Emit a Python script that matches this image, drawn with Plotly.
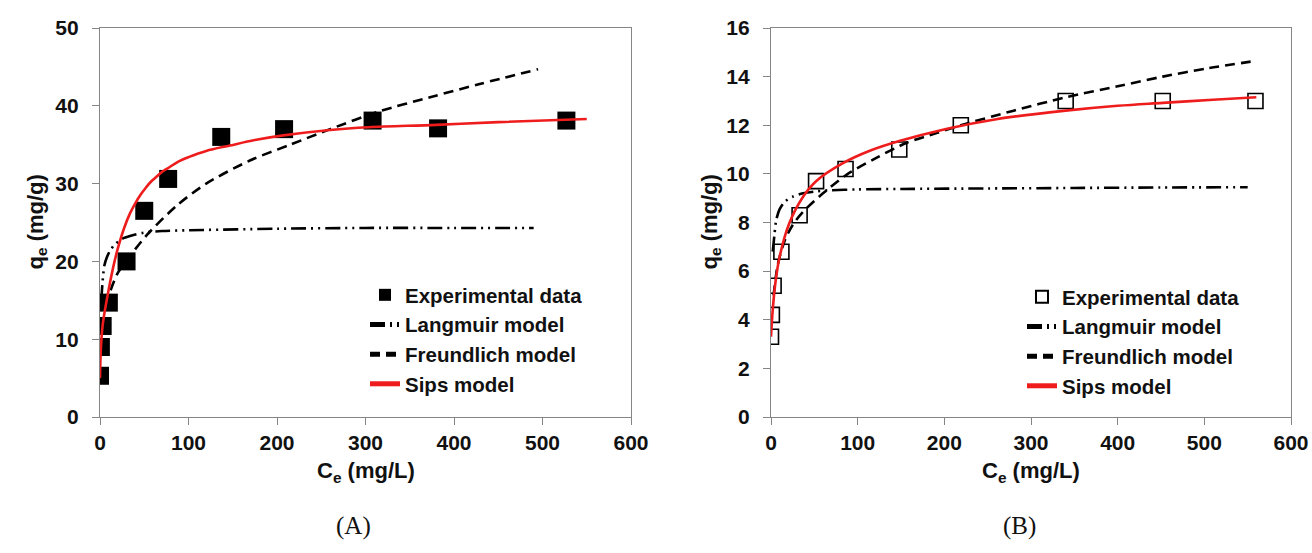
import plotly.graph_objects as go

W, H = 1312, 553

# ---------- Panel A data ----------
a_exp_x = [0, 1, 3, 10, 30, 50, 77, 137, 208, 308, 382, 527]
a_exp_y = [5.3, 9.0, 11.7, 14.7, 20.0, 26.5, 30.6, 36.0, 37.0, 38.1, 37.1, 38.1]

a_lang_x = [1.5, 3, 5, 8, 12, 17, 25, 35, 50, 70, 100, 200, 300, 400, 490]
a_lang_y = [15.0, 17.5, 19.5, 20.6, 21.5, 22.2, 22.9, 23.3, 23.7, 23.9, 24.0, 24.2, 24.3, 24.3, 24.3]

a_freu_x = [12, 20, 34, 53, 87, 120, 170, 215, 260, 316, 373, 429, 495]
a_freu_y = [16.3, 18.5, 20.7, 23.4, 27.2, 30.0, 33.0, 35.0, 37.0, 39.3, 41.1, 42.8, 44.7]

a_sips_x = [0, 1, 3, 6, 10, 15, 20, 27, 34, 40, 46, 52, 58, 64, 70, 77, 88, 100, 120, 147, 175, 207,
            260, 303, 380, 450, 550]
a_sips_y = [5.0, 8.8, 11.8, 14.0, 16.5, 19.3, 21.6, 24.2, 26.2, 27.5, 28.6, 29.5, 30.3, 30.9, 31.5,
            32.0, 32.8, 33.4, 34.2, 34.9, 35.6, 36.2, 36.9, 37.25, 37.55, 37.9, 38.3]

# ---------- Panel B data ----------
b_exp_x = [0, 1, 3, 12, 33, 52, 86, 148, 219, 340, 452, 559]
b_exp_y = [3.3, 4.2, 5.4, 6.8, 8.3, 9.7, 10.2, 11.0, 12.0, 13.0, 13.0, 13.0]

b_lang_x = [2, 4, 6, 10, 16, 25, 37, 52, 65, 100, 150, 250, 350, 450, 550]
b_lang_y = [6.8, 7.5, 8.1, 8.55, 8.86, 9.06, 9.2, 9.28, 9.32, 9.36, 9.38, 9.4, 9.42, 9.44, 9.45]

b_freu_x = [3, 8, 16, 25, 37, 60, 87, 121, 156, 191, 219, 280, 340, 400, 452, 505, 560]
b_freu_y = [5.0, 6.3, 7.27, 7.9, 8.44, 9.2, 9.96, 10.65, 11.27, 11.68, 12.0, 12.6, 13.15, 13.6,
            14.0, 14.35, 14.65]

b_sips_x = [0, 2, 5, 10, 21, 37, 52, 83, 114, 148, 202, 260, 340, 400, 452, 510, 560]
b_sips_y = [3.3, 4.4, 5.5, 6.6, 7.96, 9.06, 9.7, 10.44, 10.95, 11.35, 11.85, 12.25, 12.6, 12.8,
            12.92, 13.05, 13.15]

x_ticks = [0, 100, 200, 300, 400, 500, 600]
a_y_ticks = [0, 10, 20, 30, 40, 50]
b_y_ticks = [0, 2, 4, 6, 8, 10, 12, 14, 16]

names = ["Experimental data", "Langmuir model", "Freundlich model", "Sips model"]
x_title = "C<sub>e</sub> (mg/L)"
y_title = "q<sub>e</sub> (mg/g)"
panel_labels = ["(A)", "(B)"]

FONT = "Liberation Sans"
LANG_DASH = "15px,5px,2px,5px,2px,5px"
FREU_DASH = "10px,6px"
INK = "#111111"
AXIS_GREY = "#858585"

fig = go.Figure()


def add_panel(xa, ya, leg, ex, ey, lx, ly, fx, fy, sx, sy, filled):
    fig.add_trace(go.Scatter(
        x=ex, y=ey, mode="markers", name=names[0], xaxis=xa, yaxis=ya, legend=leg,
        marker=dict(symbol="square", size=18 if filled else 15,
                    color="black" if filled else "rgba(0,0,0,0)",
                    line=dict(color="black", width=0 if filled else 1.6))))
    fig.add_trace(go.Scatter(
        x=lx, y=ly, mode="lines", name=names[1], xaxis=xa, yaxis=ya, legend=leg,
        line=dict(color="black", width=2.6, dash=LANG_DASH, shape="spline", smoothing=0.8)))
    fig.add_trace(go.Scatter(
        x=fx, y=fy, mode="lines", name=names[2], xaxis=xa, yaxis=ya, legend=leg,
        line=dict(color="black", width=2.6, dash=FREU_DASH, shape="spline", smoothing=0.8)))
    fig.add_trace(go.Scatter(
        x=sx, y=sy, mode="lines", name=names[3], xaxis=xa, yaxis=ya, legend=leg,
        line=dict(color="#ee1c1c", width=2.6, shape="spline", smoothing=1.0)))


add_panel("x", "y", "legend", a_exp_x, a_exp_y, a_lang_x, a_lang_y,
          a_freu_x, a_freu_y, a_sips_x, a_sips_y, True)
add_panel("x2", "y2", "legend2", b_exp_x, b_exp_y, b_lang_x, b_lang_y,
          b_freu_x, b_freu_y, b_sips_x, b_sips_y, False)

Y_TOP, Y_BOT = 28, 417
y_dom = [(H - Y_BOT) / H, (H - Y_TOP) / H]
tickfont = dict(family=FONT, size=21, color=INK, weight="bold")
titlefont = dict(family=FONT, size=22, color=INK, weight="bold")

axis_common = dict(showgrid=False, zeroline=False, showline=True, linecolor=AXIS_GREY,
                   linewidth=1.3, mirror=True, ticks="outside", ticklen=7,
                   tickcolor=AXIS_GREY, tickwidth=1.3, tickfont=tickfont, automargin=False)

legend_common = dict(font=dict(family=FONT, size=20.5, color=INK, weight="bold"),
                     bgcolor="rgba(0,0,0,0)", xanchor="left", yanchor="top",
                     itemsizing="constant", tracegroupgap=0)

AX_L = (100, 631)
AX_R = (771, 1291)

fig.update_layout(
    width=W, height=H,
    margin=dict(l=0, r=0, t=0, b=0),
    paper_bgcolor="white", plot_bgcolor="white",
    showlegend=True,
    xaxis=dict(domain=[AX_L[0] / W, AX_L[1] / W], range=[0, 600], tickvals=x_ticks,
               anchor="y", ticklabelstandoff=0, **axis_common),
    yaxis=dict(domain=y_dom, range=[0, 50], tickvals=a_y_ticks,
               anchor="x", ticklabelstandoff=9, **axis_common),
    xaxis2=dict(domain=[AX_R[0] / W, AX_R[1] / W], range=[0, 600], tickvals=x_ticks,
                anchor="y2", ticklabelstandoff=0, **axis_common),
    yaxis2=dict(domain=y_dom, range=[0, 16], tickvals=b_y_ticks,
                anchor="x2", ticklabelstandoff=9, **axis_common),
    legend=dict(x=365 / W, y=1 - 275 / H, **legend_common),
    legend2=dict(x=1022 / W, y=1 - 277 / H, **legend_common),
)

ann = []
for (x0, x1), lab, ytx in zip([AX_L, AX_R], panel_labels, [36, 710]):
    cx = (x0 + x1) / 2
    ann.append(dict(text=x_title, x=cx / W, y=1 - 472 / H, xref="paper", yref="paper",
                    showarrow=False, font=titlefont, xanchor="center", yanchor="middle"))
    ann.append(dict(text=y_title, x=ytx / W, y=1 - ((Y_TOP + Y_BOT) / 2) / H,
                    xref="paper", yref="paper", textangle=-90, showarrow=False,
                    font=titlefont, xanchor="center", yanchor="middle"))
    ann.append(dict(text=lab, x=(cx - 12) / W, y=1 - 526 / H, xref="paper", yref="paper",
                    showarrow=False, xanchor="center", yanchor="middle",
                    font=dict(family="Liberation Serif", size=25, color=INK)))
fig.update_layout(annotations=ann)

fig.write_html(
    "out.html",
    config={"displayModeBar": False},
    post_script="document.body.style.margin='0';document.body.style.padding='0';"
                "document.documentElement.style.overflow='hidden';",
)
